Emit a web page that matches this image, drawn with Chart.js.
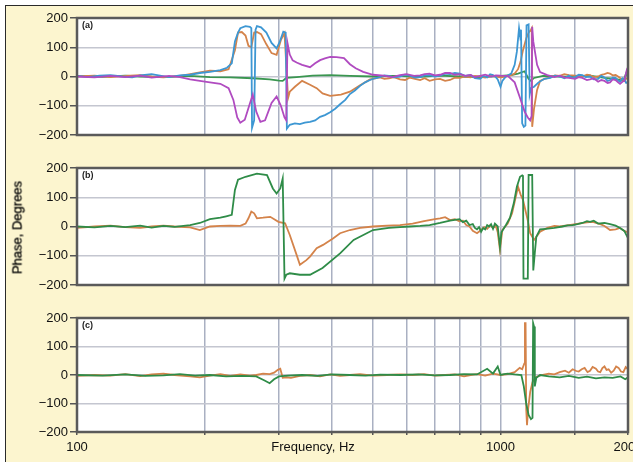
<!DOCTYPE html>
<html>
<head>
<meta charset="utf-8">
<script src="https://cdn.jsdelivr.net/npm/chart.js@4.4.1/dist/chart.umd.min.js"></script>
<style>
	html, body { margin: 0; padding: 0; background: #fff; overflow: hidden; width: 633px; height: 462px; }
	#frame { position: absolute; left: 5px; top: 5px; width: 700px; height: 500px; border: 1.5px solid #2a2a2a; background: #fcf5cf; }
	canvas { position: absolute; left: 0; }
	#ylabel { position: absolute; z-index: 5; left: -83px; top: 220px; width: 200px; text-align: center; transform: rotate(-90deg); font: 13px "Liberation Sans", Arial, sans-serif; color: #000; -webkit-text-stroke: 0.3px #000; }
	#xlabel { position: absolute; z-index: 5; left: 233px; top: 439px; width: 160px; text-align: center; font: 13px "Liberation Sans", Arial, sans-serif; color: #111; }
</style>
</head>
<body>
<div id="frame"></div>
<canvas id="panelA" width="660" height="141" style="top:6px"></canvas>
<canvas id="panelB" width="660" height="141" style="top:156px"></canvas>
<canvas id="panelC" width="660" height="156" style="top:306px"></canvas>
<div id="ylabel">Phase, Degrees</div>
<div id="xlabel">Frequency, Hz</div>
<script>
// x tick labels shown under the bottom panel
var freqLabels = [100, 1000, 2000];

// (a) four measured phase curves
var freqA_blue = [100, 106, 113, 120, 128, 135, 141, 150, 157, 165,
	175, 185, 195, 206, 218, 226, 232, 236, 240, 243,
	250, 256, 258, 259, 262, 264, 266, 272, 280, 288,
	296, 301, 307, 311, 313, 318, 327, 336, 345, 355,
	365, 375, 385, 396, 407, 418, 430, 441, 453, 466,
	479, 492, 505, 519, 532, 545, 560, 579, 595, 610,
	628, 646, 662, 680, 700, 720, 740, 760, 780, 802,
	825, 850, 870, 895, 912, 930, 945, 960, 975, 985,
	1000, 1010, 1030, 1060, 1080, 1093, 1106, 1112, 1118, 1125,
	1135, 1145, 1152, 1165, 1172, 1180, 1200, 1230, 1270, 1310,
	1345, 1380, 1415, 1450, 1475, 1500, 1530, 1560, 1590, 1627,
	1660, 1700, 1730, 1760, 1790, 1814, 1840, 1870, 1895, 1915,
	1940, 1960, 1980, 2000];
var phaseA_blue = [2, -2, 3, 5, 0, -3, 4, 8, 3, -2,
	4, 6, 12, 16, 22, 30, 45, 120, 150, 165,
	172, 170, 165, -175, -150, 160, 172, 168, 150, 115,
	96, 118, 153, 150, -178, -165, -160, -163, -158, -155,
	-150, -138, -132, -122, -110, -95, -80, -60, -48, -32,
	-20, -12, -6, -2, 4, 2, -3, 0, 6, 3,
	-4, -2, 4, 5, 0, 3, 10, 8, 12, 10,
	2, 5, -6, -8, 2, -3, 8, 5, -2, -10,
	-35, -15, 0, 10, 40, 85, 165, 140, 160, -160,
	-172, -168, 175, 178, -60, -40, -35, -20, -8, -5,
	3, 0, -6, 3, -4, -2, 6, 5, -2, 0,
	-10, -8, 2, -3, -15, -12, -4, -5, -14, -18,
	-6, -10, -22, -20];

var freqA_orange = [100, 110, 120, 130, 141, 150, 160, 175, 185, 195,
	206, 218, 228, 236, 240, 245, 250, 254, 258, 262,
	266, 272, 280, 288, 296, 303, 309, 312, 315, 318,
	327, 340, 355, 368, 380, 396, 420, 441, 466, 492,
	519, 532, 545, 560, 579, 595, 610, 628, 646, 662,
	680, 700, 720, 740, 760, 780, 802, 825, 850, 870,
	895, 920, 950, 975, 1000, 1030, 1060, 1080, 1100, 1115,
	1130, 1150, 1165, 1180, 1185, 1188, 1200, 1220, 1240, 1270,
	1310, 1345, 1380, 1415, 1450, 1500, 1560, 1600, 1627, 1660,
	1700, 1730, 1760, 1790, 1814, 1840, 1870, 1895, 1915, 1940,
	1960, 1980, 2000];
var phaseA_orange = [0, 3, -2, 2, 5, 0, -3, 2, 8, 14,
	20, 18, 25, 90, 150, 152, 140, 105, 100, 150,
	152, 145, 110, 80, 74, 125, 148, 40, -74, -52,
	-35, -15, -28, -40, -58, -66, -62, -52, -30, -10,
	-3, -8, -6, -2, -10, -12, -4, -8, -12, -6,
	-15, -10, -8, -15, -12, -4, -5, 0, -3, 2,
	0, -4, 2, 0, -3, 0, 5, 10, 25, 50,
	90, 130, 150, 160, 165, -172, -110, -46, -15, -8,
	-3, 4, 2, 8, 5, 3, 0, 6, 5, -2,
	0, 6, 8, 12, 10, 4, 5, 0, -5, -10,
	-15, -6, -8];

var freqA_magenta = [100, 110, 120, 130, 141, 150, 165, 175, 185, 195,
	206, 218, 228, 234, 239, 243, 249, 255, 260, 265,
	271, 278, 288, 296, 303, 309, 312, 314, 318, 323,
	330, 340, 355, 365, 375, 385, 396, 410, 427, 441,
	455, 474, 500, 530, 555, 579, 600, 625, 646, 662,
	680, 700, 720, 740, 760, 780, 802, 825, 850, 870,
	895, 920, 950, 975, 1000, 1040, 1080, 1110, 1140, 1160,
	1175, 1184, 1188, 1195, 1220, 1240, 1290, 1340, 1380, 1420,
	1450, 1500, 1530, 1560, 1600, 1627, 1660, 1700, 1730, 1760,
	1790, 1814, 1840, 1870, 1895, 1915, 1940, 1960, 1985, 2000];
var phaseA_magenta = [0, -3, 2, -2, 3, -4, 2, -2, -10, -15,
	-20, -25, -40, -80, -140, -158, -148, -100, -62, -120,
	-155, -150, -90, -68, -100, -140, -150, 115, 75, 55,
	48, 40, 32, 45, 56, 62, 67, 66, 63, 42,
	28, 16, 6, 3, -2, 5, 8, 2, 4, 8,
	10, 4, 6, 12, 12, 6, 8, 2, 5, -2,
	2, 6, 0, 4, 3, 2, -20, -70, -120, -140,
	-150, -135, 170, 120, 40, 15, 5, -2, 3, -4,
	-5, -8, -2, -5, -12, -10, -6, -18, -12, -15,
	-22, -20, -10, -12, -20, -25, -18, -15, 20, 5];

var freqA_green = [100, 115, 130, 141, 160, 185, 206, 230, 260, 285,
	300, 306, 312, 330, 360, 396, 441, 500, 560, 646,
	720, 802, 895, 1000, 1060, 1100, 1140, 1165, 1180, 1200,
	1260, 1380, 1500, 1627, 1760, 1870, 1950, 1985, 2000];
var phaseA_green = [2, -1, 3, 0, -2, 2, -2, -3, -6, -10,
	-14, -15, -5, -2, 3, 5, 2, 0, 2, -1,
	3, 0, -3, 2, 5, 10, 18, -8, -15, -5,
	2, 0, -2, 3, -5, -8, -15, 15, -10];

// (b) two curves
var freqB_green = [100, 110, 120, 130, 141, 150, 160, 170, 185, 195,
	206, 218, 225, 232, 236, 240, 250, 266, 281, 290,
	296, 302, 306, 309, 312, 318, 336, 355, 380, 418,
	450, 500, 545, 579, 610, 646, 680, 720, 760, 800,
	815, 830, 845, 860, 870, 880, 890, 900, 910, 920,
	930, 940, 950, 960, 970, 985, 997, 1005, 1030, 1053,
	1075, 1093, 1112, 1125, 1130, 1133, 1160, 1165, 1188, 1195,
	1205, 1215, 1240, 1280, 1340, 1400, 1440, 1480, 1520, 1560,
	1600, 1627, 1660, 1700, 1760, 1814, 1870, 1915, 1960, 2000];
var phaseB_green = [0, -3, 2, -2, 3, -4, 2, -1, 5, 12,
	25, 30, 35, 40, 125, 160, 170, 181, 176, 130,
	113, 130, 164, -178, -165, -160, -165, -165, -142, -92,
	-46, -12, -5, -2, 0, 2, 5, 12, 20, 25,
	15, 20, 5, 8, -5, -10, -2, -18, -5, -10,
	5, 0, 8, -8, 10, 0, -70, -20, 5, 30,
	80, 136, 170, 175, 172, -178, -178, 176, 176, -150,
	-90, -35, -10, -8, -5, 0, 4, 5, 8, 12,
	18, 16, 20, 10, 12, 8, 3, -5, -15, -40];

var freqB_orange = [100, 110, 120, 130, 141, 150, 160, 170, 185, 195,
	206, 218, 230, 243, 250, 254, 258, 262, 266, 275,
	286, 299, 310, 318, 330, 336, 348, 355, 368, 381,
	403, 418, 441, 466, 500, 540, 579, 620, 660, 700,
	720, 740, 760, 780, 800, 815, 830, 845, 860, 880,
	900, 915, 930, 945, 960, 975, 985, 997, 1010, 1040,
	1065, 1090, 1100, 1115, 1130, 1160, 1175, 1200, 1240, 1290,
	1340, 1380, 1450, 1530, 1600, 1650, 1720, 1760, 1814, 1870,
	1915, 1960, 2000];
var phaseB_orange = [-5, 0, 3, -2, -5, 0, 3, 0, -3, -12,
	0, 2, 3, 2, 10, 28, 51, 45, 28, 30,
	33, 16, 11, -29, -97, -131, -115, -103, -74, -63,
	-40, -23, -12, -5, 0, 3, 5, 10, 18, 25,
	28, 32, 22, 25, 18, 20, 5, 0, -15, -23,
	-12, -2, -8, 4, -5, 2, -20, -80, -12, 10,
	45, 110, 136, 110, 91, 20, -23, -46, -18, -5,
	2, 0, 5, 10, 14, 16, 8, 2, -12, -10,
	-5, -15, -20];

// (c) two curves
var freqC_orange = [100, 110, 120, 130, 141, 150, 160, 170, 185, 195,
	206, 218, 230, 243, 256, 265, 275, 285, 292, 298,
	302, 306, 312, 320, 336, 355, 375, 396, 418, 441,
	466, 500, 540, 579, 620, 660, 700, 740, 780, 820,
	850, 880, 920, 960, 1000, 1040, 1080, 1110, 1125, 1138,
	1142, 1146, 1150, 1155, 1162, 1175, 1190, 1210, 1250, 1300,
	1340, 1380, 1420, 1450, 1480, 1510, 1530, 1555, 1580, 1605,
	1627, 1650, 1680, 1700, 1720, 1740, 1760, 1780, 1800, 1825,
	1850, 1875, 1900, 1925, 1950, 1975, 2000];
var phaseC_orange = [-3, 0, -2, 3, -4, 2, 5, 0, -5, -8,
	-2, 3, -3, 2, -2, 0, 5, 3, 8, 18,
	22, -10, -8, -10, -3, 0, -5, 2, -3, 0,
	3, -2, 0, 2, 0, 3, -2, 0, 2, -5,
	0, 3, -2, 5, 0, 3, 10, 25, 20, 40,
	182, 182, -120, -176, -120, -60, -25, -8, 0, 5,
	2, 10, 15, 8, 20, 14, 12, 20, 25, 10,
	15, 28, 22, 12, 10, 24, 30, 18, 20, 8,
	15, 30, 25, 12, 10, 28, 20];

var freqC_green = [100, 115, 130, 145, 160, 175, 190, 206, 225, 245,
	265, 278, 285, 292, 300, 315, 340, 370, 400, 440,
	480, 520, 580, 640, 700, 760, 820, 880, 930, 960,
	985, 1000, 1020, 1040, 1080, 1120, 1135, 1150, 1165, 1180,
	1190, 1194, 1200, 1205, 1215, 1240, 1300, 1380, 1450, 1530,
	1600, 1680, 1760, 1840, 1920, 1970, 2000];
var phaseC_green = [0, -2, 2, -3, -1, 3, -2, 0, -5, -3,
	-5, -20, -29, -15, -5, -2, 0, -3, 2, 0,
	-2, 1, 0, 2, -1, 0, 3, 2, 22, 5,
	30, 0, 3, 5, 2, 0, -40, -100, -140, -155,
	-150, 182, 170, -40, -10, 0, -5, -8, -3, -10,
	-6, -12, -8, -10, -5, -15, -8];

var color = {
	blue: "#3d97d3",
	orange: "#d4834a",
	magenta: "#b04bc0",
	green: "#3a9650",
	darkGreen: "#2f8c48"
};

var labelFont = { family: "'Liberation Sans', Arial, sans-serif", size: 13 };

function toPoints(freq, phase) {
	var pts = [];
	for (var i = 0; i < freq.length; i++) {
		pts.push({ x: freq[i], y: phase[i] });
	}
	return pts;
}

// white plot area, dark box round it and the small panel letter
function plotBox(tag) {
	return {
		id: "plotBox",
		beforeDraw: function (chart) {
			var a = chart.chartArea;
			var ctx = chart.ctx;
			ctx.save();
			ctx.fillStyle = "#ffffff";
			ctx.fillRect(a.left, a.top, a.right - a.left, a.bottom - a.top);
			ctx.restore();
		},
		afterDraw: function (chart) {
			var a = chart.chartArea;
			var ctx = chart.ctx;
			ctx.save();
			ctx.strokeStyle = "#5a5a5a";
			ctx.lineWidth = 2.5;
			ctx.strokeRect(a.left, a.top, a.right - a.left, a.bottom - a.top);
			ctx.fillStyle = "#222";
			ctx.font = "bold 9px 'Liberation Sans', Arial, sans-serif";
			ctx.textBaseline = "middle";
			ctx.fillText(tag, a.left + 5, a.top + 8);
			ctx.restore();
		}
	};
}

function makePanel(id, tag, series, showFreq) {
	var datasets = series.map(function (s) {
		return {
			data: toPoints(s.freq, s.phase),
			borderColor: s.color,
			borderWidth: 1.8,
			pointRadius: 0,
			tension: 0,
			fill: false
		};
	});

	return new Chart(document.getElementById(id), {
		type: "line",
		data: { datasets: datasets },
		options: {
			responsive: false,
			animation: false,
			events: [],
			layout: { padding: { top: 12, right: 32, bottom: showFreq ? 0 : 12, left: 0 } },
			plugins: {
				legend: { display: false },
				tooltip: { enabled: false }
			},
			scales: {
				x: {
					type: "logarithmic",
					min: 100,
					max: 2000,
					border: { display: false },
					grid: {
						color: "#a9b0c2",
						lineWidth: 1.5,
						drawTicks: showFreq,
						tickLength: 3,
						tickColor: "#555"
					},
					ticks: {
						display: showFreq,
						autoSkip: false,
						maxRotation: 0,
						padding: 5,
						color: "#111",
						font: labelFont,
						callback: function (v) {
							return freqLabels.indexOf(v) >= 0 ? String(v) : "";
						}
					},
					afterFit: function (scale) {
						scale.height = showFreq ? 30 : 0;
					}
				},
				y: {
					min: -200,
					max: 200,
					border: { display: false },
					grid: {
						color: "#c4c6d0",
						lineWidth: 1.5,
						tickLength: 7,
						tickColor: "#555",
						tickWidth: 1.5
					},
					ticks: {
						stepSize: 50,
						padding: 2,
						color: "#111",
						font: labelFont,
						callback: function (v) {
							if (v % 100 !== 0) return "";
							return v < 0 ? "\u2212" + Math.abs(v) : String(v);
						}
					},
					afterFit: function (scale) {
						scale.width = 77;
					}
				}
			}
		},
		plugins: [plotBox(tag)]
	});
}

makePanel("panelA", "(a)", [
	{ freq: freqA_magenta, phase: phaseA_magenta, color: color.magenta },
	{ freq: freqA_blue, phase: phaseA_blue, color: color.blue },
	{ freq: freqA_orange, phase: phaseA_orange, color: color.orange },
	{ freq: freqA_green, phase: phaseA_green, color: color.green }
], false);

makePanel("panelB", "(b)", [
	{ freq: freqB_green, phase: phaseB_green, color: color.darkGreen },
	{ freq: freqB_orange, phase: phaseB_orange, color: color.orange }
], false);

makePanel("panelC", "(c)", [
	{ freq: freqC_green, phase: phaseC_green, color: color.darkGreen },
	{ freq: freqC_orange, phase: phaseC_orange, color: color.orange }
], true);
</script>
</body>
</html>
